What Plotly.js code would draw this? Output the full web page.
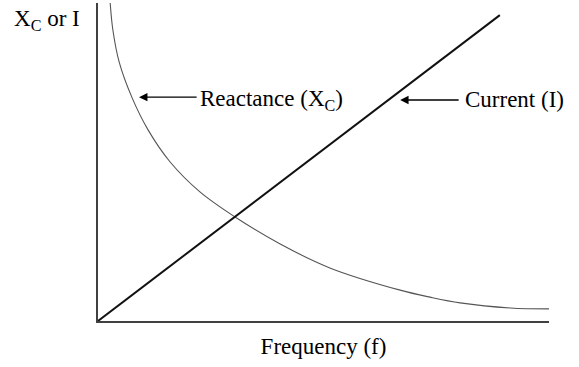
<!DOCTYPE html>
<html>
<head>
<meta charset="utf-8">
<script src="https://cdn.plot.ly/plotly-3.0.1.min.js"></script>
<style>
  html, body { margin: 0; padding: 0; background: #fff; }
  #chart { width: 579px; height: 367px; }
</style>
</head>
<body>
<div id="chart"></div>
<script>
// frequency in arbitrary units (0-100)
const currentFreq = [0, 89.1];
const currentVal = [0, 96.2];

const reactanceFreq = [2.7, 3.3, 4.7, 7.5, 11.1, 16.0, 22.6, 30.4, 40.4, 51.4, 67.0, 73.6, 80.3, 91.4, 100];
const reactanceVal = [100, 91.5, 81.4, 70.4, 60.1, 50.0, 40.6, 32.7, 24.2, 16.7, 9.7, 7.5, 5.7, 4.1, 3.8];

const font = { family: '"Liberation Serif", "Times New Roman", serif', size: 23, color: '#000' };

const traces = [
  {
    x: reactanceFreq,
    y: reactanceVal,
    mode: 'lines',
    line: { color: '#555', width: 1.1, shape: 'spline', smoothing: 1 },
    hoverinfo: 'skip'
  },
  {
    x: currentFreq,
    y: currentVal,
    mode: 'lines',
    line: { color: '#111', width: 2 },
    hoverinfo: 'skip'
  }
];

const arrow = (tipX, tipY, tailX) => ({
  x: tipX, y: tipY, ax: tailX, ay: tipY,
  xref: 'x', yref: 'y', axref: 'x', ayref: 'y',
  text: '', showarrow: true,
  arrowhead: 2, arrowsize: 1.2, arrowwidth: 1.4, arrowcolor: '#000', standoff: 0
});

const label = (text, x, y) => ({
  x: x, y: y, xref: 'x', yref: 'y', xanchor: 'left', yanchor: 'middle',
  text: text, showarrow: false, font: font
});

const layout = {
  width: 579,
  height: 367,
  margin: { l: 98, r: 30, t: 3, b: 46 },
  paper_bgcolor: '#fff',
  plot_bgcolor: '#fff',
  showlegend: false,
  font: font,
  xaxis: {
    range: [0, 100],
    showline: true, linecolor: '#404040', linewidth: 2,
    showgrid: false, zeroline: false, showticklabels: false, ticks: '',
    title: { text: 'Frequency (f)', font: font, standoff: 16 }
  },
  yaxis: {
    range: [0, 100],
    showline: true, linecolor: '#404040', linewidth: 2,
    showgrid: false, zeroline: false, showticklabels: false, ticks: ''
  },
  annotations: [
    arrow(9.1, 70.4, 22.2),
    arrow(67.0, 69.5, 80.3),
    label('Reactance (X<sub>C</sub>)', 22.2, 69.6),
    label('Current (I)', 81.0, 69.8),
    {
      x: -0.113, y: 0.945, xref: 'paper', yref: 'paper', xanchor: 'center', yanchor: 'middle',
      text: 'X<sub>C</sub> or I', showarrow: false, font: font
    }
  ]
};

Plotly.newPlot('chart', traces, layout, { displayModeBar: false, staticPlot: true });
</script>
</body>
</html>
